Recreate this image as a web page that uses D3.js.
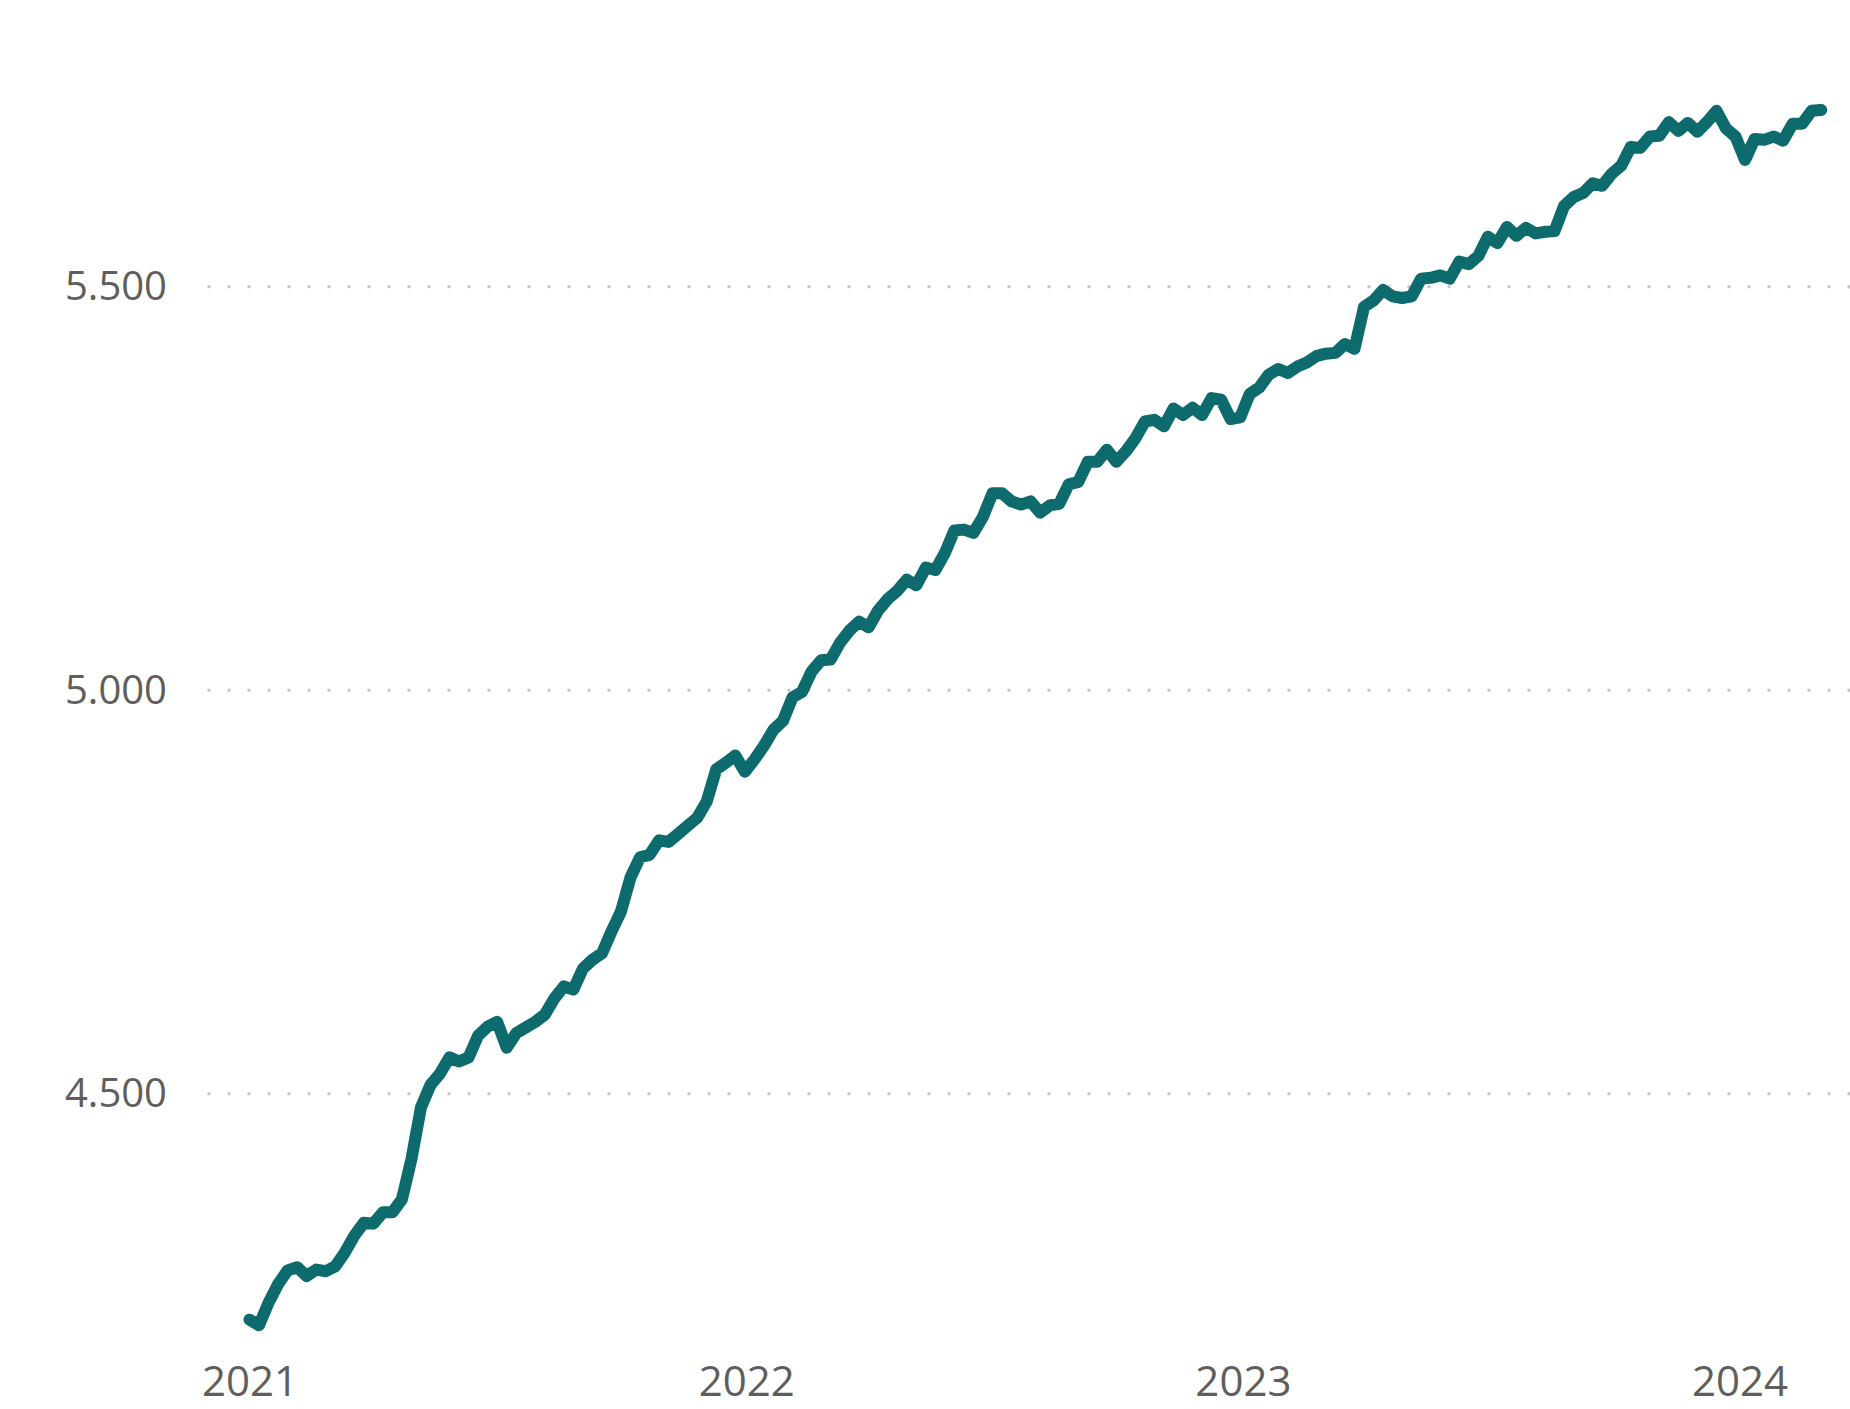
<html>
<head>
    <script src="https://cdnjs.cloudflare.com/ajax/libs/d3/7.8.5/d3.min.js"></script>
    <style>
        body { margin: 0; background: #ffffff; }
        svg { display: block; }
    </style>
</head>
<body>
<script>

// weekly readings, first week starting 1 Jan 2021
var startDate = "2021-01-01";
var values = [
    4220, 4213, 4241, 4264, 4281, 4285, 4274, 4282, 4280, 4286,
    4303, 4324, 4340, 4339, 4353, 4353, 4369, 4419, 4483, 4511,
    4525, 4545, 4540, 4545, 4572, 4583, 4589, 4557, 4575, 4582,
    4589, 4598, 4618, 4633, 4629, 4655, 4666, 4674, 4701, 4726,
    4768, 4793, 4796, 4814, 4812, 4822, 4832, 4842, 4862, 4902,
    4910, 4919, 4899, 4914, 4931, 4951, 4962, 4991, 4998, 5023,
    5037, 5038, 5059, 5074, 5085, 5078, 5099, 5113, 5123, 5137,
    5130, 5152, 5149, 5170, 5198, 5199, 5195, 5215, 5244, 5244,
    5234, 5230, 5234, 5220, 5229, 5231, 5255, 5258, 5283, 5283,
    5298, 5283, 5296, 5312, 5333, 5335, 5327, 5349, 5341, 5350,
    5341, 5362, 5360, 5336, 5338, 5367, 5375, 5391, 5398, 5393,
    5401, 5406, 5414, 5417, 5418, 5429, 5423, 5475, 5483, 5496,
    5488, 5486, 5488, 5510, 5511, 5514, 5510, 5531, 5528, 5538,
    5562, 5554, 5574, 5563, 5573, 5566, 5568, 5569, 5600, 5611,
    5616, 5628, 5625, 5640, 5650, 5673, 5672, 5686, 5687, 5704,
    5693, 5703, 5692, 5704, 5718, 5696, 5686, 5657, 5683, 5682,
    5686, 5681, 5702, 5702, 5718, 5719
];
var yTicks = [4500, 5000, 5500];
var xTicks = ["2021-01-01", "2022-01-01", "2023-01-01", "2024-01-01"];

var width = 1850;
var height = 1409;

var parseDate = d3.timeParse("%Y-%m-%d");
var start = parseDate(startDate);
var data = values.map(function (v, i) {
    return { date: d3.timeDay.offset(start, 7 * i), value: v };
});

var svg = d3.select("body").append("svg")
    .attr("width", width)
    .attr("height", height);

var x = d3.scaleTime()
    .domain([parseDate("2021-01-01"), parseDate("2024-01-01")])
    .range([249.5, 1739.6]);

var y = d3.scaleLinear()
    .domain([4500, 5500])
    .range([1093.7, 286.7]);

var locale = d3.formatLocale({ decimal: ",", thousands: ".", grouping: [3], currency: ["", ""] });
var fmt = locale.format(",d");

var textColor = "#605e5c";
var fontFamily = "'Segoe UI', 'Open Sans', 'Noto Sans', sans-serif";

// dotted gridlines
svg.append("g")
    .selectAll("line")
    .data(yTicks)
    .enter()
    .append("line")
    .attr("x1", 209)
    .attr("x2", width)
    .attr("y1", d => y(d))
    .attr("y2", d => y(d))
    .attr("stroke", "#c8c6c4")
    .attr("stroke-width", 3.5)
    .attr("stroke-linecap", "round")
    .attr("stroke-dasharray", "0 20");

// y axis
var yAxisGroup = svg.append("g")
    .attr("transform", "translate(207,0)");
yAxisGroup.call(d3.axisLeft(y).tickValues(yTicks).tickSize(0).tickPadding(40).tickFormat(fmt));
yAxisGroup.select(".domain").remove();
yAxisGroup.selectAll("text")
    .attr("fill", textColor)
    .style("font-family", fontFamily)
    .style("font-size", "40px");

// x axis
var xAxisGroup = svg.append("g")
    .attr("transform", "translate(0,1381)");
xAxisGroup.call(d3.axisBottom(x).tickValues(xTicks.map(parseDate)).tickSize(0).tickPadding(0).tickFormat(d3.timeFormat("%Y")));
xAxisGroup.select(".domain").remove();
xAxisGroup.selectAll("text")
    .attr("y", 0)
    .attr("dy", "0.35em")
    .attr("fill", textColor)
    .style("font-family", fontFamily)
    .style("font-size", "42px");

// the line
var line = d3.line()
    .x(d => x(d.date))
    .y(d => y(d.value))
    .curve(d3.curveLinear);

svg.append("path")
    .datum(data)
    .attr("fill", "none")
    .attr("stroke", "#0e6b6d")
    .attr("stroke-width", 12)
    .attr("stroke-linejoin", "round")
    .attr("stroke-linecap", "round")
    .attr("d", line);

</script>
</body>
</html>
